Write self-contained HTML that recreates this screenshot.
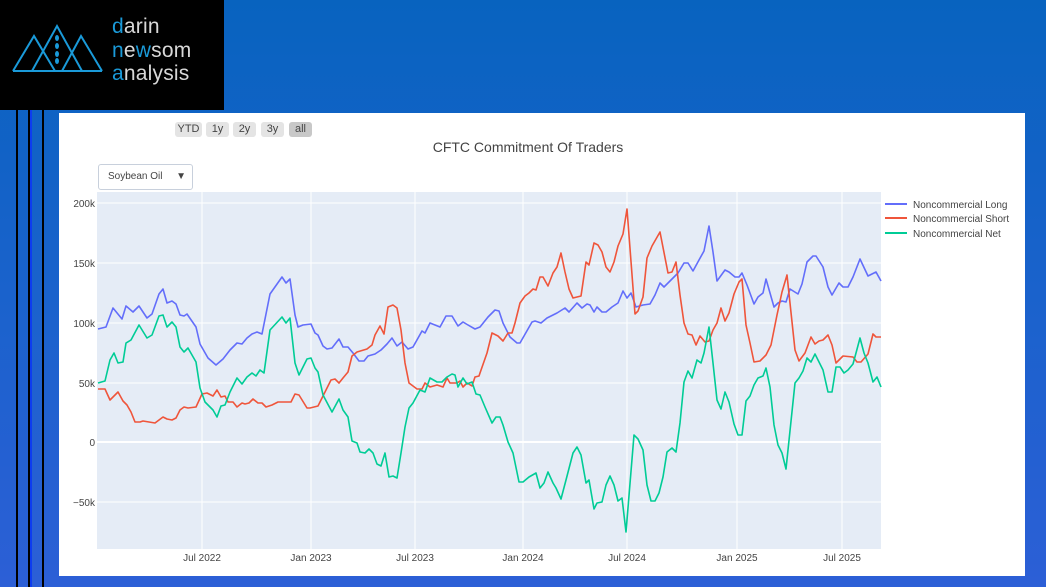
<!DOCTYPE html>
<html><head><meta charset="utf-8"><style>
body{margin:0;width:1046px;height:587px;overflow:hidden;background:linear-gradient(180deg,#0863bf 0%,#1a62cc 50%,#2c5fd6 100%);font-family:"Liberation Sans",sans-serif;position:relative}
.abs{position:absolute}
.logo{left:0;top:0;width:224px;height:110px;background:#000}
.lt{left:112px;font-size:21px;color:#d8d8d8;font-family:"Liberation Sans",sans-serif;letter-spacing:0.2px}
.b{color:#1a9ad9}
.panel{left:59px;top:113px;width:966px;height:463px;background:#fff}
.btn{top:122px;height:15px;background:#e4e4e4;border-radius:3px;font-size:11px;color:#444;text-align:center;line-height:15px}
</style></head><body>
<div class="abs logo">
<svg width="224" height="110" class="abs" style="left:0;top:0">
<g fill="none" stroke="#1a9ad9" stroke-width="2">
<polyline points="13,71 34,36 55,71"/><polyline points="32,71 57,26 82,71"/><polyline points="62,71 81,36 102,71"/><line x1="13" y1="71" x2="102" y2="71"/>
</g>
<g fill="#1a9ad9"><ellipse cx="57" cy="38" rx="2" ry="3"/><ellipse cx="57" cy="46" rx="2" ry="3"/><ellipse cx="57" cy="54" rx="2" ry="3"/><ellipse cx="57" cy="61" rx="2" ry="3"/></g>
</svg>
<div class="abs lt" style="top:15px"><span class="b">d</span>arin</div>
<div class="abs lt" style="top:39px"><span class="b">n</span>e<span class="b">w</span>som</div>
<div class="abs lt" style="top:62px"><span class="b">a</span>nalysis</div>
</div>
<div class="abs" style="left:16px;top:110px;width:2px;height:477px;background:#000"></div>
<div class="abs" style="left:28px;top:110px;width:2px;height:477px;background:#000"></div>
<div class="abs" style="left:30px;top:110px;width:2px;height:477px;background:#0d3cf0"></div>
<div class="abs" style="left:42px;top:110px;width:2px;height:477px;background:#000"></div>
<div class="abs panel"></div>
<div class="abs btn" style="left:175px;width:27px">YTD</div>
<div class="abs btn" style="left:206px;width:23px">1y</div>
<div class="abs btn" style="left:233px;width:23px">2y</div>
<div class="abs btn" style="left:261px;width:23px">3y</div>
<div class="abs btn" style="left:289px;width:23px;background:#c8c8c8">all</div>
<div class="abs" style="left:0;width:1056px;top:139px;text-align:center;font-size:14px;color:#444">CFTC Commitment Of Traders</div>
<div class="abs" style="left:98px;top:164px;width:93px;height:24px;border:1px solid #c8d0dc;border-radius:3px;background:#fff;font-size:10px;color:#444;line-height:24px"><span style="margin-left:9px">Soybean Oil</span><span style="position:absolute;right:6px;font-size:10px">▼</span></div>
<svg class="abs" style="left:0;top:0" width="1046" height="587">
<rect x="97" y="192" width="784" height="357" fill="#e5ecf6"/>
<g stroke="#fff" stroke-width="1">
<line x1="97" x2="881" y1="203" y2="203"/><line x1="97" x2="881" y1="263" y2="263"/><line x1="97" x2="881" y1="323" y2="323"/><line x1="97" x2="881" y1="383" y2="383"/><line x1="97" x2="881" y1="502" y2="502"/>
<line x1="202" x2="202" y1="192" y2="549"/><line x1="311" x2="311" y1="192" y2="549"/><line x1="415" x2="415" y1="192" y2="549"/><line x1="523" x2="523" y1="192" y2="549"/><line x1="627" x2="627" y1="192" y2="549"/><line x1="737" x2="737" y1="192" y2="549"/><line x1="842" x2="842" y1="192" y2="549"/>
</g>
<line x1="97" x2="881" y1="442" y2="442" stroke="#fff" stroke-width="2"/>
<g font-size="10" fill="#444" text-anchor="end">
<text x="95" y="207">200k</text><text x="95" y="267">150k</text><text x="95" y="327">100k</text><text x="95" y="387">50k</text><text x="95" y="446">0</text><text x="95" y="506">−50k</text>
</g>
<g font-size="10" fill="#444" text-anchor="middle">
<text x="202" y="561">Jul 2022</text><text x="311" y="561">Jan 2023</text><text x="415" y="561">Jul 2023</text><text x="523" y="561">Jan 2024</text><text x="627" y="561">Jul 2024</text><text x="737" y="561">Jan 2025</text><text x="842" y="561">Jul 2025</text>
</g>
<g fill="none" stroke-width="1.6" stroke-linejoin="round">
<polyline stroke="#636efa" points="98,329 106,327 113,308 122,319 126,306 133,312 139,306 147,318 152,314 159,294 163,289 167,303 172,301 176,304 180,315 184,316 187,314 196,327 200,344 208,358 216,365 223,359 230,350 237,343 242,344 247,338 252,334 257,332 262,334 270,294 282,277 286,283 290,279 295,315 298,327 303,325 311,324 315,333 318,335 323,346 327,349 332,348 339,339 343,347 348,347 353,353 359,361 364,361 368,356 375,354 381,350 387,344 392,338 397,346 402,342 408,349 413,347 422,331 425,333 430,323 440,327 446,316 452,316 458,326 463,322 468,325 475,329 480,327 488,317 495,310 499,311 503,323 510,337 517,343 520,343 532,322 535,321 541,323 547,318 557,313 565,308 569,312 577,303 582,308 587,304 590,305 594,312 597,307 602,312 606,312 612,307 618,303 623,291 627,298 631,293 636,307 643,305 650,304 655,295 660,283 664,287 678,273 684,263 688,263 693,271 699,260 704,251 709,226 713,252 717,281 725,270 729,272 735,277 739,277 742,273 747,285 754,304 758,297 763,293 766,279 774,307 778,303 782,301 786,302 790,289 798,294 802,284 807,262 813,256 816,256 823,267 828,287 832,295 839,283 843,287 848,287 853,277 860,259 868,276 876,272 881,281"/>
<polyline stroke="#ef553b" points="98,389 105,389 110,400 118,392 123,401 127,405 131,412 135,422 140,422 143,421 155,423 163,417 167,419 172,420 176,418 180,410 184,407 188,408 196,407 202,394 207,393 213,396 217,390 221,397 225,396 228,402 233,402 237,407 242,403 245,404 249,403 253,399 258,403 262,403 266,407 272,405 278,402 288,402 291,402 295,394 299,395 307,408 310,408 318,406 323,396 331,380 335,379 339,383 343,378 348,372 352,356 357,352 367,349 372,345 375,335 380,326 384,334 388,307 393,305 397,308 401,330 405,363 409,383 417,389 422,389 425,383 430,387 437,385 443,387 447,378 450,383 457,383 460,381 463,387 467,383 472,386 475,377 479,376 480,373 487,353 492,333 498,336 503,341 508,333 512,333 515,323 520,303 525,296 529,293 533,289 536,290 540,277 543,277 548,286 553,273 557,267 561,253 565,272 569,289 573,298 581,296 586,262 589,265 594,243 598,245 602,252 606,267 610,272 614,262 618,246 623,234 627,209 635,314 638,311 643,297 647,258 652,246 660,232 668,273 672,272 676,262 680,295 684,323 688,334 692,335 696,345 700,336 705,342 709,341 713,330 717,323 721,308 725,321 729,313 734,294 739,282 742,279 746,325 750,343 754,362 760,361 766,355 771,345 777,315 782,292 787,275 795,350 799,361 805,353 811,337 815,344 819,341 823,340 828,335 832,345 836,363 843,356 853,357 857,362 861,362 868,354 873,334 876,337 881,337"/>
<polyline stroke="#00cc96" points="98,383 105,381 110,360 114,353 118,363 123,362 126,343 131,340 139,325 147,338 152,335 159,316 163,315 167,327 172,322 176,327 180,347 184,352 188,348 196,362 200,388 205,402 213,410 217,417 221,406 225,405 230,392 237,378 242,384 247,377 252,373 256,376 260,370 264,373 270,330 282,317 286,323 290,318 295,363 299,375 307,359 311,358 315,368 318,372 323,395 332,412 339,399 343,410 348,417 352,441 357,443 360,452 365,453 369,449 373,453 377,464 381,466 385,453 389,477 393,476 397,478 401,453 405,427 409,408 413,403 420,390 425,392 430,378 437,382 442,382 447,377 452,374 455,375 458,387 463,378 467,384 472,382 476,394 480,395 485,407 492,423 496,417 500,417 503,425 508,442 513,453 519,482 523,482 529,477 536,473 540,488 544,483 548,472 553,483 556,488 561,499 566,480 573,453 577,447 581,455 586,483 589,480 594,509 597,503 602,502 606,485 610,476 614,485 618,501 622,498 626,532 634,435 638,439 643,450 647,485 651,501 655,501 659,493 663,477 667,452 672,448 676,452 680,423 684,382 688,371 692,378 697,360 701,363 704,353 709,327 713,363 717,400 721,409 725,392 729,402 734,424 738,435 742,435 746,401 750,396 754,385 758,378 763,376 766,368 770,387 774,425 778,445 782,453 786,469 795,383 799,378 803,371 807,358 811,362 815,354 819,362 823,370 828,392 832,392 836,367 840,367 844,373 848,370 853,364 856,353 860,338 864,353 868,363 873,382 877,377 881,387"/>
</g>
<g stroke-width="2"><line x1="885" x2="907" y1="204" y2="204" stroke="#636efa"/><line x1="885" x2="907" y1="218" y2="218" stroke="#ef553b"/><line x1="885" x2="907" y1="233" y2="233" stroke="#00cc96"/></g>
<g font-size="10" fill="#444"><text x="913" y="208">Noncommercial Long</text><text x="913" y="222">Noncommercial Short</text><text x="913" y="237">Noncommercial Net</text></g>
</svg>
</body></html>
